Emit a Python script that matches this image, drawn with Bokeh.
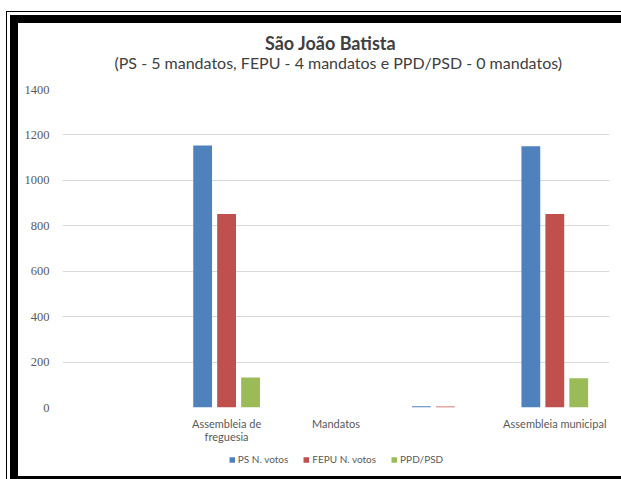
import numpy as np
from bokeh.plotting import figure
from bokeh.layouts import column
from bokeh.models import (ColumnDataSource, Legend, LegendItem, Label,
                          FixedTicker, Range1d)
from bokeh.transform import dodge
from bokeh.embed import file_html
from bokeh.resources import INLINE

# ---- data ----
categories = ["", "Assembleia de\nfreguesia", "Mandatos", "", "Assembleia municipal"]
ps_votes = [0, 1153, 0, 5, 1150]
fepu_votes = [0, 852, 0, 4, 852]
ppd_psd = [0, 132, 0, 0, 129]
series_names = ["PS N. votos", "FEPU N. votos", "PPD/PSD"]
y_ticks = [0, 200, 400, 600, 800, 1000, 1200, 1400]
title_text = "São João Batista"
subtitle_text = "(PS - 5 mandatos, FEPU - 4 mandatos e PPD/PSD - 0 mandatos)"

colors = ["#4F81BD", "#C0504D", "#9BBB59"]
MAIN_W = 603
TITLE_H, CHART_H, LEG_H = 58, 366, 29

# ---- title band ----
tf = figure(width=MAIN_W, height=TITLE_H, output_backend="svg", toolbar_location=None,
            x_range=Range1d(0, MAIN_W), y_range=Range1d(TITLE_H, 0),
            x_axis_type=None, y_axis_type=None, min_border=0)
tf.outline_line_color = None
tf.grid.visible = False
tf.background_fill_color = "white"
tf.border_fill_color = "white"
tf.add_layout(Label(x=295.5, y=19, text=title_text, text_font="Lato",
                    text_font_size="18px", text_font_style="bold", text_color="#404040",
                    text_align="center", text_baseline="middle"))
tf.add_layout(Label(x=304, y=39, text=subtitle_text, text_font="Lato",
                    text_font_size="16px", text_color="#404040",
                    text_align="center", text_baseline="middle"))

# ---- main chart ----
p = figure(width=MAIN_W, height=CHART_H, output_backend="svg", toolbar_location=None,
           x_range=Range1d(0.5, 5.5), y_range=Range1d(0, 1400),
           min_border_left=44, min_border_right=12, min_border_top=8, min_border_bottom=40)
p.outline_line_color = None
p.background_fill_color = "white"
p.border_fill_color = "white"

xs = np.arange(1, len(categories) + 1)
src = ColumnDataSource(dict(x=xs, ps=ps_votes, fepu=fepu_votes, ppd=ppd_psd))
bw = 0.172
off = 0.219
cols = ["ps", "fepu", "ppd"]
for i, (col, c) in enumerate(zip(cols, colors)):
    p.vbar(x=dodge("x", (i - 1) * off), top=col, width=bw, bottom=0, source=src,
           fill_color=c, line_color=None)

p.yaxis.ticker = FixedTicker(ticks=y_ticks)
p.yaxis.axis_line_color = None
p.yaxis.major_tick_line_color = None
p.yaxis.minor_tick_line_color = None
p.yaxis.major_label_text_font = "Liberation Serif"
p.yaxis.major_label_text_font_size = "12.5px"
p.yaxis.major_label_text_color = "#595959"
p.yaxis.major_label_standoff = 7

p.xaxis.ticker = FixedTicker(ticks=list(xs))
p.xaxis.major_label_overrides = {int(k): v for k, v in zip(xs, categories)}
p.xaxis.axis_line_color = None
p.xaxis.major_tick_line_color = None
p.xaxis.minor_tick_line_color = None
p.xaxis.major_label_text_font = "Lato"
p.xaxis.major_label_text_font_size = "11px"
p.xaxis.major_label_text_color = "#595959"
p.xaxis.major_label_text_line_height = 1.0
p.xaxis.major_label_standoff = 3

p.xgrid.grid_line_color = None
p.ygrid.ticker = FixedTicker(ticks=y_ticks)
p.ygrid.grid_line_color = "#D9D9D9"
p.ygrid.grid_line_width = 1

# ---- legend band ----
lg = figure(width=MAIN_W, height=LEG_H, output_backend="svg", toolbar_location=None,
            x_range=Range1d(0.5, 5.5), y_range=Range1d(2000, 3000),
            x_axis_type=None, y_axis_type=None, min_border=0, min_border_right=11)
lg.outline_line_color = None
lg.grid.visible = False
lg.background_fill_color = "white"
lg.border_fill_color = "white"
leg_renderers = [lg.vbar(x="x", top=col, width=0.1, source=src, fill_color=c, line_color=None)
                 for col, c in zip(cols, colors)]
legend = Legend(items=[LegendItem(label=n, renderers=[r]) for n, r in zip(series_names, leg_renderers)],
                orientation="horizontal", location="top_center",
                border_line_color=None, background_fill_alpha=0,
                label_text_font="Lato", label_text_font_size="10px", label_text_color="#595959",
                glyph_width=7, glyph_height=7, label_standoff=3, spacing=14,
                padding=2, margin=6)
lg.add_layout(legend, "center")

layout = column(tf, p, lg, spacing=0)
layout.styles = {"margin-left": "10px", "margin-top": "15px",
                 "border-left": "8px solid black", "border-top": "8px solid black",
                 "border-bottom": "3px solid black",
                 "outline": "1px solid black", "outline-offset": "3px",
                 "box-sizing": "content-box"}

open("out.html", "w").write(file_html(layout, INLINE))
